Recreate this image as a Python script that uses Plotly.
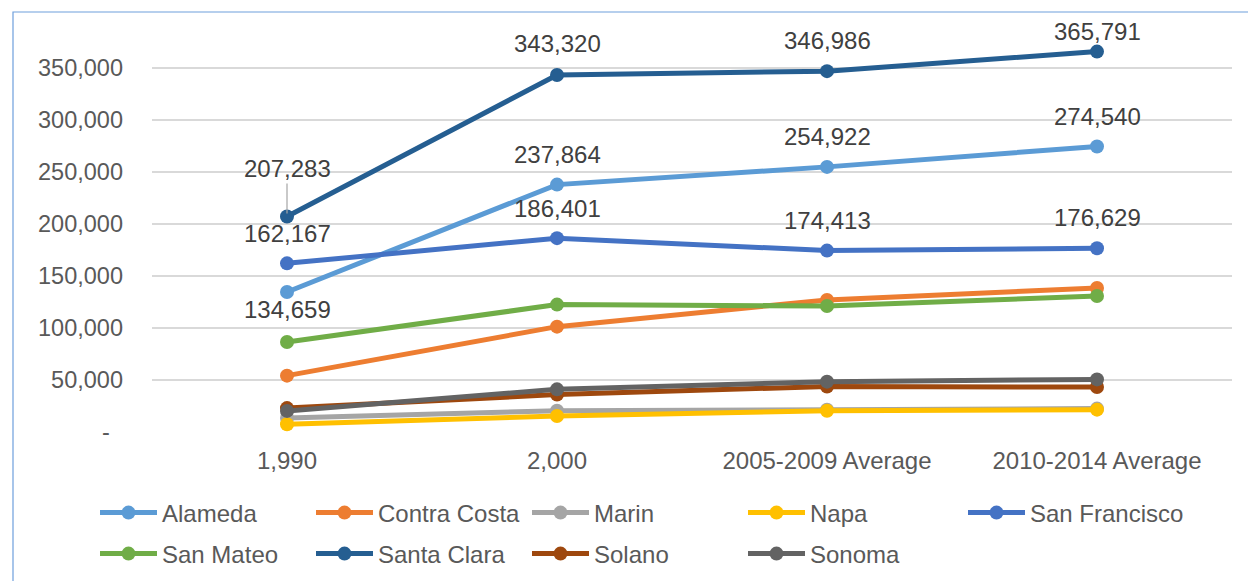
import plotly.graph_objects as go

categories = ["1,990", "2,000", "2005-2009 Average", "2010-2014 Average"]

county_names = ["Alameda", "Contra Costa", "Marin", "Napa", "San Francisco",
                "San Mateo", "Santa Clara", "Solano", "Sonoma"]

alameda = [134659, 237864, 254922, 274540]
contra_costa = [54200, 101300, 127000, 138500]
marin = [13500, 20500, 21500, 22500]
napa = [7500, 15400, 20500, 21500]
san_francisco = [162167, 186401, 174413, 176629]
san_mateo = [86500, 122500, 121200, 130800]
santa_clara = [207283, 343320, 346986, 365791]
solano = [23000, 36000, 43800, 43200]
sonoma = [20300, 41000, 48400, 50600]

y_tick_values = [0, 50000, 100000, 150000, 200000, 250000, 300000, 350000]
y_tick_labels = ["-\u00a0\u00a0", "50,000", "100,000", "150,000", "200,000",
                 "250,000", "300,000", "350,000"]

series = [alameda, contra_costa, marin, napa, san_francisco,
          san_mateo, santa_clara, solano, sonoma]
colors = ["#5B9BD5", "#ED7D31", "#A5A5A5", "#FFC000", "#4472C4",
          "#70AD47", "#255E91", "#9E480E", "#636363"]
# legend rows: row 1 (split so the last entry is not clipped), row 2
legend_ids = ["legend", "legend", "legend", "legend", "legend3",
              "legend2", "legend2", "legend2", "legend2"]

FONT = "Liberation Sans, Arial, sans-serif"
FS = 24

fig = go.Figure()
for name, vals, col, lg in zip(county_names, series, colors, legend_ids):
    fig.add_trace(go.Scatter(
        x=categories, y=vals, name=name, mode="lines+markers",
        line=dict(color=col, width=5),
        marker=dict(color=col, size=14),
        legend=lg, hoverinfo="skip",
    ))

# data labels (offsets are styling only)
labelled = [(alameda, [-18, 30, 30, 30]),
            (san_francisco, [30, 30, 30, 31]),
            (santa_clara, [None, 31, 31, 20])]
annotations = []
for vals, shifts in labelled:
    for cat, v, s in zip(categories, vals, shifts):
        if s is None:
            annotations.append(dict(
                x=cat, y=v, xref="x", yref="y", text=f"{v:,}",
                showarrow=True, arrowhead=0, arrowwidth=1.2, arrowcolor="#A6A6A6",
                ax=0, ay=-48, standoff=3,
                font=dict(family=FONT, size=FS, color="#404040")))
        else:
            annotations.append(dict(
                x=cat, y=v, xref="x", yref="y", text=f"{v:,}",
                showarrow=False, yshift=s, yanchor="middle",
                font=dict(family=FONT, size=FS, color="#404040")))

# chart frame (light blue border, partly cropped)
fig.add_shape(type="rect", xref="paper", yref="paper",
              x0=(13 - 152) / 1080, x1=1.1, y0=(432 - 12) / 416, y1=-0.5,
              line=dict(color="#6E9FDC", width=1.2), fillcolor="rgba(0,0,0,0)",
              layer="below")

W, H = 1248, 581
legend_style = dict(orientation="h", xref="container", yref="container",
                    xanchor="left", yanchor="middle",
                    entrywidth=144, entrywidthmode="pixels",
                    itemwidth=57, font=dict(family=FONT, size=FS, color="#595959"),
                    bgcolor="rgba(0,0,0,0)")

fig.update_layout(
    width=W, height=H,
    margin=dict(l=152, r=16, t=16, b=149, autoexpand=False),
    paper_bgcolor="white", plot_bgcolor="white",
    font=dict(family=FONT, size=FS, color="#595959"),
    annotations=annotations,
    showlegend=True,
    legend=dict(legend_style, x=95 / W, y=1 - 513 / H),
    legend3=dict(legend_style, x=(95 + 4 * 217) / W, y=1 - 513 / H, entrywidth=200),
    legend2=dict(legend_style, x=95 / W, y=1 - 554 / H),
)
fig.update_xaxes(type="category", range=[-0.5, 3.5], showgrid=False,
                 showline=False, zeroline=False, ticks="",
                 ticklabelstandoff=12,
                 tickfont=dict(family=FONT, size=FS, color="#595959"))
fig.update_yaxes(range=[0, 400000], tickvals=y_tick_values, ticktext=y_tick_labels,
                 showgrid=True, gridcolor="#D9D9D9", gridwidth=1.5,
                 zeroline=False, showline=False, ticks="",
                 ticklabelstandoff=28,
                 tickfont=dict(family=FONT, size=23.5, color="#595959"))

fig.write_html("out.html", config={"displayModeBar": False},
               post_script="document.body.style.margin='0';")
